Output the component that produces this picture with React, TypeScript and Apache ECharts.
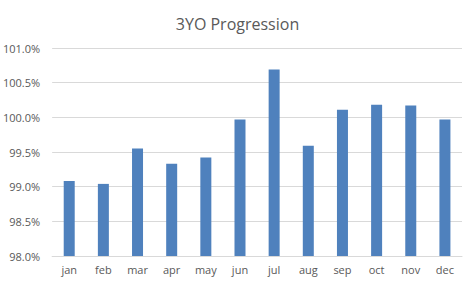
import React, { useEffect, useRef } from "react";
import * as echarts from "echarts";

const months = ["jan", "feb", "mar", "apr", "may", "jun", "jul", "aug", "sep", "oct", "nov", "dec"];
const values = [99.08, 99.04, 99.55, 99.33, 99.42, 99.97, 100.69, 99.59, 100.11, 100.18, 100.17, 99.97];
const yMin = 98;
const yMax = 101;
const yStep = 0.5;

export default function App() {
  const ref = useRef<HTMLDivElement>(null);
  useEffect(() => {
    if (!ref.current) return;
    const chart = echarts.init(ref.current, undefined, { renderer: "svg" });
    chart.setOption({
      animation: false,
      backgroundColor: "#ffffff",
      title: {
        text: "3YO Progression",
        left: "center",
        top: 11,
        textStyle: { fontFamily: "Open Sans", fontSize: 16, fontWeight: "normal", color: "#595959" },
      },
      grid: { left: 52, right: 13, top: 48, bottom: 29, containLabel: false },
      xAxis: {
        type: "category",
        data: months,
        axisLine: { lineStyle: { color: "#d9d9d9" } },
        axisTick: { show: false },
        axisLabel: { color: "#595959", fontFamily: "Open Sans", fontSize: 11, margin: 8 },
      },
      yAxis: {
        type: "value",
        min: yMin,
        max: yMax,
        interval: yStep,
        axisLine: { show: false },
        axisTick: { show: false },
        splitLine: { lineStyle: { color: "#d9d9d9" } },
        axisLabel: {
          color: "#595959",
          fontFamily: "Open Sans",
          fontSize: 11,
          margin: 12,
          formatter: (v: number) => v.toFixed(1) + "%",
        },
      },
      series: [
        {
          type: "bar",
          data: values,
          barWidth: 11,
          itemStyle: { color: "#4F81BD" },
        },
      ],
    });
    return () => chart.dispose();
  }, []);
  return <div ref={ref} style={{ position: "fixed", left: 0, top: 0, width: 475, height: 285 }} />;
}
